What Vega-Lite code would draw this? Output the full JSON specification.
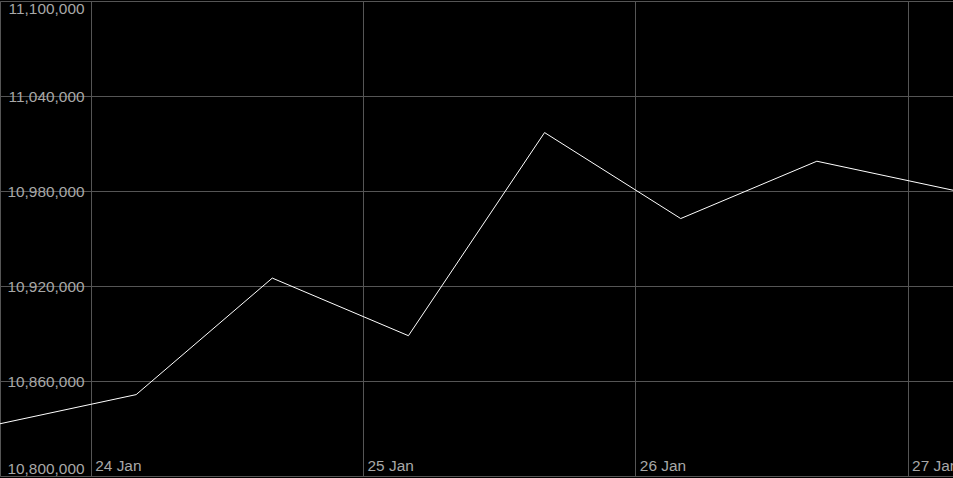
{
  "$schema": "https://vega.github.io/schema/vega-lite/v6.json",
  "autosize": {"type": "none"},
  "width": 953,
  "height": 475,
  "padding": {"left": 0, "right": 0, "top": 1, "bottom": 2},
  "background": "#000000",
  "config": {
    "view": {"stroke": "#555555", "strokeWidth": 1},
    "axis": {
      "labelFont": "Liberation Sans",
      "labelFontSize": 15.4,
      "labelColor": "#a8a8a8",
      "gridColor": "#555555",
      "gridWidth": 1,
      "domain": false,
      "ticks": false,
      "title": null
    }
  },
  "data": {
    "values": [
      {"t": "2024-01-23T16:00:00", "v": 10833000},
      {"t": "2024-01-24T04:00:00", "v": 10851400},
      {"t": "2024-01-24T16:00:00", "v": 10925000},
      {"t": "2024-01-25T04:00:00", "v": 10888600},
      {"t": "2024-01-25T16:00:00", "v": 11016900},
      {"t": "2024-01-26T04:00:00", "v": 10962600},
      {"t": "2024-01-26T16:00:00", "v": 10998800},
      {"t": "2024-01-27T04:00:00", "v": 10980500}
    ]
  },
  "mark": {"type": "line", "color": "#ffffff", "strokeWidth": 1},
  "encoding": {
    "x": {
      "field": "t",
      "type": "temporal",
      "scale": {
        "domain": [
          {"year": 2024, "month": 1, "date": 23, "hours": 16},
          {"year": 2024, "month": 1, "date": 27, "hours": 4}
        ]
      },
      "axis": {
        "values": [
          {"year": 2024, "month": 1, "date": 24},
          {"year": 2024, "month": 1, "date": 25},
          {"year": 2024, "month": 1, "date": 26},
          {"year": 2024, "month": 1, "date": 27}
        ],
        "format": "%d %b",
        "labelAlign": "left",
        "labelBaseline": "bottom",
        "labelPadding": -3,
        "labelOffset": 4,
        "labelBound": false,
        "labelOverlap": false
      }
    },
    "y": {
      "field": "v",
      "type": "quantitative",
      "scale": {"domain": [10800000, 11100000], "nice": false, "zero": false},
      "axis": {
        "values": [10800000, 10860000, 10920000, 10980000, 11040000, 11100000],
        "format": ",d",
        "labelAlign": "right",
        "labelPadding": -84,
        "labelFlush": true,
        "labelOverlap": false
      }
    }
  }
}
